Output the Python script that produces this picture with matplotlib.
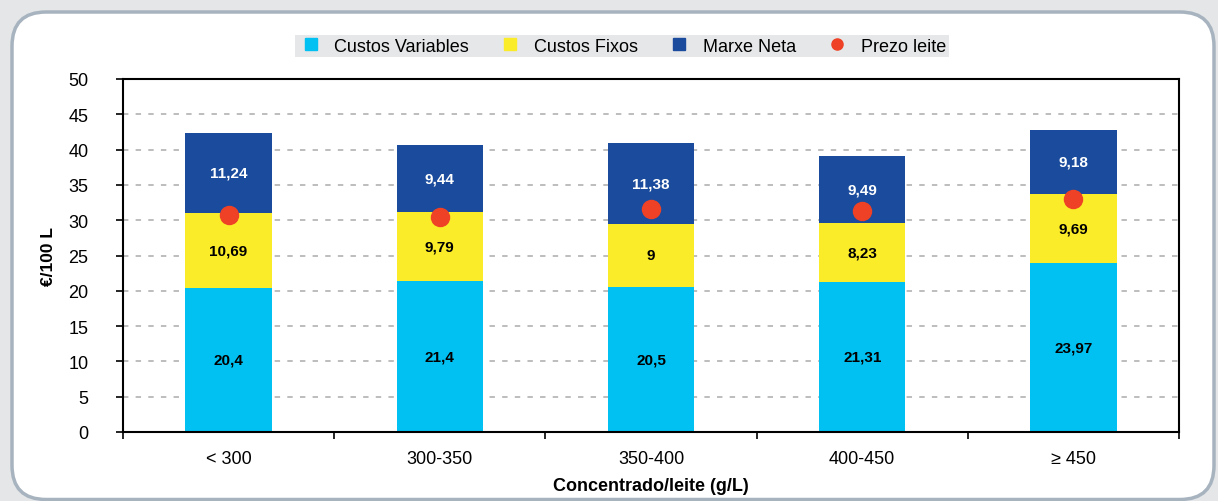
import numpy as np
import matplotlib.pyplot as plt
from matplotlib.patches import FancyBboxPatch
from matplotlib.lines import Line2D

plt.rcParams['font.family'] = ['Liberation Sans', 'DejaVu Sans']

# data
categories = ['< 300', '300-350', '350-400', '400-450', '≥ 450']
custos_variables = [20.4, 21.4, 20.5, 21.31, 23.97]
custos_fixos = [10.69, 9.79, 9, 8.23, 9.69]
marxe_neta = [11.24, 9.44, 11.38, 9.49, 9.18]
prezo_leite = [30.7, 30.4, 31.6, 31.3, 33.0]

c_var = '#00c1f1'
c_fix = '#fbec2a'
c_mar = '#1a4b9c'
c_dot = '#ee4125'

fig = plt.figure(figsize=(12.18, 5.02), dpi=100, facecolor='#e4e6e8')

# rounded frame around the chart
frame = FancyBboxPatch((12/1218, 1.5/502), 1 - 4/1218 - 12/1218, 1 - 13/502 - 1.5/502,
                       boxstyle='round,pad=0,rounding_size=0.028',
                       transform=fig.transFigure, facecolor='white',
                       edgecolor='#a7b3bf', linewidth=2.5, zorder=-5,
                       mutation_aspect=1218/502)
fig.patches.append(frame)

ax = fig.add_axes([123/1218, 1 - 433/502, (1179-123)/1218, (433-80)/502])
ax.set_facecolor('none')
ax.set_zorder(2)

x = np.arange(len(categories))
w = 0.41
var = np.array(custos_variables)
fix = np.array(custos_fixos)
mar = np.array(marxe_neta)

ax.bar(x, var, w, color=c_var, zorder=2)
ax.bar(x, fix, w, bottom=var, color=c_fix, zorder=2)
ax.bar(x, mar, w, bottom=var + fix, color=c_mar, zorder=2)
ax.plot(x, prezo_leite, 'o', color=c_dot, markersize=13, zorder=4, linestyle='none')

def fmt(v):
    s = ('%g' % v).replace('.', ',')
    return s

for i in range(len(x)):
    ax.text(x[i], var[i]/2, fmt(var[i]), ha='center', va='center',
            fontsize=11, fontweight='bold', color='black', zorder=5)
    ax.text(x[i], var[i] + fix[i]/2, fmt(fix[i]), ha='center', va='center',
            fontsize=11, fontweight='bold', color='black', zorder=5)
    ax.text(x[i], var[i] + fix[i] + mar[i]/2, fmt(mar[i]), ha='center', va='center',
            fontsize=11, fontweight='bold', color='white', zorder=5)

ax.set_xlim(-0.5, 4.5)
ax.set_ylim(0, 50)
ax.set_yticks(np.arange(0, 51, 5))
for yv in range(5, 50, 5):
    ax.axhline(yv, color='#b8b8b8', linewidth=1.3, linestyle=(0, (3, 4)), zorder=1)

ax.set_xticks(np.arange(-0.5, 5, 1))
ax.set_xticklabels([])
ax.set_xticks(x, minor=True)
ax.set_xticklabels(categories, minor=True, fontsize=13)
ax.tick_params(axis='x', which='minor', length=0, pad=13)
ax.tick_params(axis='x', which='major', length=5, width=1.2, direction='out')
ax.tick_params(axis='y', length=5, width=1.2, direction='out', labelsize=13, pad=20)

for s in ax.spines.values():
    s.set_linewidth(1.5)
    s.set_color('black')

ax.set_ylabel('€/100 L', fontsize=12.5, fontweight='bold', labelpad=9)
ax.set_xlabel('Concentrado/leite (g/L)', fontsize=13, fontweight='bold', labelpad=7)

handles = [
    Line2D([], [], marker='s', color=c_var, linestyle='none', markersize=9),
    Line2D([], [], marker='s', color=c_fix, linestyle='none', markersize=9),
    Line2D([], [], marker='s', color=c_mar, linestyle='none', markersize=9),
    Line2D([], [], marker='o', color=c_dot, linestyle='none', markersize=8),
]
labels = ['Custos Variables', 'Custos Fixos', 'Marxe Neta', 'Prezo leite']
leg = fig.legend(handles, labels, loc='center', bbox_to_anchor=(622/1218, 1 - 47/502),
                 ncol=4, fontsize=13, frameon=True, fancybox=False,
                 facecolor='#e6e7e8', edgecolor='none', framealpha=1,
                 handletextpad=0.6, columnspacing=1.6, borderpad=0.15,
                 borderaxespad=0, handlelength=1.4)

fig.savefig('out.png', dpi=100, facecolor=fig.get_facecolor())
